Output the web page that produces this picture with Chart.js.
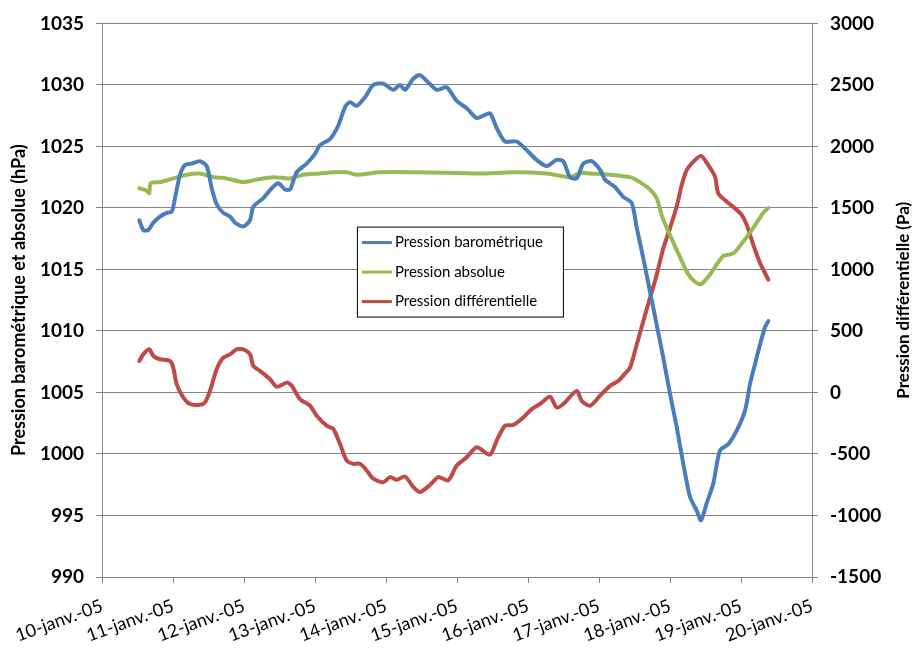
<!DOCTYPE html>
<html>
<head>
<meta charset="utf-8">
<script src="https://cdn.jsdelivr.net/npm/chart.js@4.4.0/dist/chart.umd.min.js"></script>
<style>
  html, body { margin: 0; padding: 0; background: #fff; }
</style>
</head>
<body>
<canvas id="pressure_chart" width="912" height="648"></canvas>
<script>
// time = days since 10-janv.-05 00:00
const day_labels = ['10-janv.-05','11-janv.-05','12-janv.-05','13-janv.-05','14-janv.-05',
  '15-janv.-05','16-janv.-05','17-janv.-05','18-janv.-05','19-janv.-05','20-janv.-05'];

const series_names = ['Pression barométrique', 'Pression absolue', 'Pression différentielle'];
const left_title = 'Pression barométrique et absolue (hPa)';
const right_title = 'Pression différentielle (Pa)';

const baro_days = [0.525,0.582,0.652,0.723,0.817,0.911,0.982,1.028,1.099,1.169,1.263,1.380,1.475,1.545,1.615,1.708,1.803,1.873,1.990,2.085,
  2.131,2.272,2.390,2.483,2.577,2.648,2.742,2.883,3.000,3.070,3.211,3.328,3.423,3.493,3.587,3.704,3.821,3.962,4.103,4.197,
  4.268,4.385,4.479,4.596,4.714,4.855,4.996,5.137,5.277,5.370,5.465,5.559,5.676,5.841,5.982,6.123,6.263,6.404,6.497,6.592,
  6.686,6.779,6.897,7.014,7.085,7.225,7.342,7.461,7.531,7.624,7.718,7.813,7.906,8.000,8.094,8.187,8.282,8.376,8.437,8.517,
  8.610,8.704,8.821,8.939,9.056,9.127,9.197,9.268,9.338,9.385];
const baro_hpa = [1019.0,1018.2,1018.2,1018.8,1019.3,1019.6,1019.7,1020.8,1022.7,1023.5,1023.6,1023.8,1023.4,1021.6,1020.3,1019.6,1019.3,1018.8,1018.5,1019.0,
  1020.1,1020.8,1021.6,1022.0,1021.5,1021.5,1022.9,1023.6,1024.4,1025.1,1025.6,1026.7,1028.2,1028.6,1028.3,1029.0,1030.0,1030.1,1029.6,1030.0,
  1029.6,1030.5,1030.8,1030.2,1029.6,1029.8,1028.7,1028.1,1027.3,1027.5,1027.7,1026.5,1025.4,1025.4,1024.7,1023.9,1023.4,1023.9,1023.8,1022.5,
  1022.4,1023.6,1023.8,1023.1,1022.3,1021.7,1020.9,1020.4,1018.4,1015.9,1013.2,1010.5,1007.8,1004.9,1002.2,999.2,996.5,995.4,994.6,996.0,
  997.6,1000.3,1000.8,1001.9,1003.5,1005.7,1007.3,1008.9,1010.3,1010.8];

const abs_days = [0.525,0.630,0.666,0.686,0.817,1.004,1.193,1.380,1.568,1.756,1.990,2.179,2.413,2.648,2.835,3.070,3.258,3.446,3.587,3.915,
  4.385,4.855,5.324,5.793,6.263,6.592,6.732,6.873,7.155,7.437,7.577,7.718,7.813,7.883,7.976,8.070,8.165,8.258,8.352,8.437,
  8.539,8.658,8.751,8.892,9.010,9.127,9.244,9.314,9.385];
const abs_hpa = [1021.6,1021.4,1021.2,1022.0,1022.1,1022.4,1022.7,1022.8,1022.5,1022.4,1022.1,1022.3,1022.5,1022.4,1022.7,1022.8,1022.9,1022.9,1022.7,1022.9,
  1022.9,1022.85,1022.8,1022.9,1022.8,1022.5,1022.85,1022.8,1022.7,1022.5,1022.1,1021.5,1020.8,1019.4,1018.1,1016.9,1015.7,1014.6,1014.0,1013.8,
  1014.4,1015.4,1016.1,1016.3,1017.1,1018.0,1019.0,1019.6,1020.0];

const diff_days = [0.525,0.582,0.666,0.723,0.817,0.958,1.004,1.052,1.145,1.239,1.380,1.451,1.521,1.615,1.708,1.803,1.897,1.990,2.085,2.131,
  2.225,2.366,2.461,2.601,2.672,2.789,2.930,3.024,3.165,3.258,3.352,3.446,3.539,3.634,3.728,3.821,3.962,4.056,4.151,4.268,
  4.385,4.479,4.620,4.737,4.877,4.996,5.137,5.277,5.465,5.559,5.676,5.793,5.934,6.052,6.169,6.310,6.404,6.497,6.686,6.756,
  6.873,7.014,7.155,7.272,7.366,7.437,7.507,7.624,7.718,7.813,7.906,8.000,8.094,8.165,8.235,8.328,8.437,8.539,8.634,8.680,
  8.799,8.915,9.010,9.080,9.173,9.268,9.338,9.385];
const diff_pa = [256,310,351,297,270,256,202,68,-41,-94,-100,-81,13,189,283,310,351,351,310,216,
  175,108,46,80,54,-54,-108,-189,-270,-297,-418,-553,-580,-580,-634,-701,-729,-688,-710,-683,
  -769,-810,-752,-688,-715,-594,-527,-446,-505,-391,-270,-264,-203,-135,-94,-35,-122,-94,13,-68,
  -108,-27,54,94,153,202,337,580,768,958,1173,1335,1511,1686,1808,1875,1923,1848,1754,1618,
  1551,1497,1444,1363,1201,1052,971,917];

const colors = ['#4a7ebb', '#98b954', '#be4b48'];
const font_family = 'Lato, "Liberation Sans", sans-serif';

function to_points(xs, ys) {
  return xs.map((x, i) => ({x: x, y: ys[i]}));
}

// titles on both sides read bottom-to-top, plus the boxed legend inside the plot
const side_titles = {
  id: 'side_titles',
  afterDraw(chart) {
    const ctx = chart.ctx;
    const area = chart.chartArea;
    const mid = (area.top + area.bottom) / 2;
    ctx.save();
    ctx.fillStyle = '#000';
    ctx.font = 'bold 18px ' + font_family;
    ctx.textAlign = 'center';
    ctx.textBaseline = 'middle';
    ctx.translate(19, mid);
    ctx.rotate(-Math.PI / 2);
    ctx.fillText(left_title, 0, 0);
    ctx.restore();

    ctx.save();
    ctx.fillStyle = '#000';
    ctx.font = 'bold 17px ' + font_family;
    ctx.textAlign = 'center';
    ctx.textBaseline = 'middle';
    ctx.translate(chart.width - 8, mid);
    ctx.rotate(-Math.PI / 2);
    ctx.fillText(right_title, 0, 0);
    ctx.restore();
  }
};

const box_legend = {
  id: 'box_legend',
  afterDatasetsDraw(chart) {
    const ctx = chart.ctx;
    const area = chart.chartArea;
    const bx = area.left + (area.right - area.left) * 0.359;
    const by = area.top + (area.bottom - area.top) * 0.367;
    const bw = 206, bh = 90;
    ctx.save();
    ctx.fillStyle = '#fff';
    ctx.fillRect(bx, by, bw, bh);
    ctx.strokeStyle = '#000';
    ctx.lineWidth = 1;
    ctx.strokeRect(bx + 0.5, by + 0.5, bw, bh);
    ctx.font = '15px ' + font_family;
    ctx.textBaseline = 'middle';
    chart.data.datasets.forEach((ds, i) => {
      const yy = by + 16 + i * 29.5;
      ctx.strokeStyle = ds.borderColor;
      ctx.lineWidth = 3;
      ctx.beginPath();
      ctx.moveTo(bx + 5, yy);
      ctx.lineTo(bx + 35, yy);
      ctx.stroke();
      ctx.fillStyle = '#000';
      ctx.fillText(ds.label, bx + 38, yy);
    });
    ctx.restore();
  }
};

const plain_number = (value) => String(value);

const pressure_chart = new Chart(document.getElementById('pressure_chart'), {
  type: 'line',
  data: {
    datasets: [
      {label: series_names[0], data: to_points(baro_days, baro_hpa), yAxisID: 'y', borderColor: colors[0]},
      {label: series_names[1], data: to_points(abs_days, abs_hpa), yAxisID: 'y', borderColor: colors[1]},
      {label: series_names[2], data: to_points(diff_days, diff_pa), yAxisID: 'y2', borderColor: colors[2]}
    ]
  },
  options: {
    responsive: false,
    animation: false,
    devicePixelRatio: 1,
    layout: {padding: {top: 21, right: 0, bottom: 0, left: 0}},
    elements: {
      line: {borderWidth: 4, tension: 0.25, borderCapStyle: 'round', borderJoinStyle: 'round'},
      point: {radius: 0}
    },
    plugins: {legend: {display: false}, tooltip: {enabled: false}},
    scales: {
      x: {
        type: 'linear',
        min: 0,
        max: 10,
        afterFit: (scale) => { scale.height = 71; },
        grid: {drawOnChartArea: false, tickLength: 6, color: '#868686'},
        border: {color: '#868686'},
        ticks: {
          stepSize: 1,
          autoSkip: false,
          minRotation: 20,
          maxRotation: 20,
          padding: 12,
          color: '#000',
          font: {family: font_family, size: 18},
          callback: (value) => day_labels[value]
        }
      },
      y: {
        position: 'left',
        min: 990,
        max: 1035,
        afterFit: (scale) => { scale.width = 102; },
        grid: {color: '#868686', tickLength: 6},
        border: {color: '#868686'},
        ticks: {stepSize: 5, padding: 12, color: '#000', font: {family: font_family, size: 19, weight: 'bold'},
          callback: plain_number}
      },
      y2: {
        position: 'right',
        min: -1500,
        max: 3000,
        afterFit: (scale) => { scale.width = 100; },
        grid: {drawOnChartArea: false, color: '#868686', tickLength: 6},
        border: {color: '#868686'},
        ticks: {stepSize: 500, padding: 12, color: '#000', font: {family: font_family, size: 19, weight: 'bold'},
          callback: plain_number}
      }
    }
  },
  plugins: [side_titles, box_legend]
});
</script>
</body>
</html>
